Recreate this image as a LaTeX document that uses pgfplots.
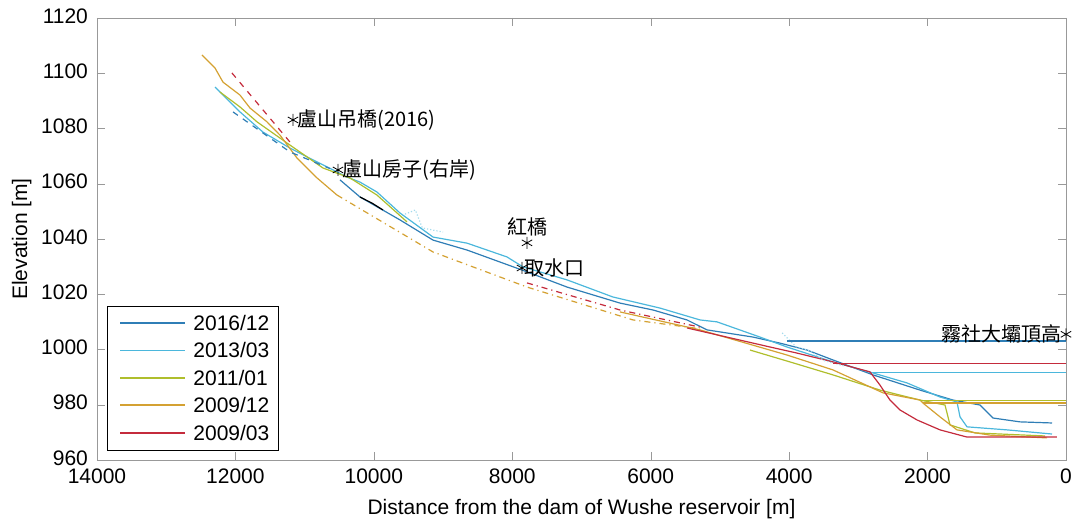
\documentclass[border=0pt]{standalone}
\usepackage{fontspec}
\setmainfont{Liberation Sans}
\newfontfamily\cjk{Noto Sans CJK TC}
\usepackage{pgfplots}
\pgfplotsset{compat=1.18}
\definecolor{cA}{HTML}{2F7EB6}
\definecolor{cB}{HTML}{4BB7DC}
\definecolor{cC}{HTML}{AFBE2C}
\definecolor{cD}{HTML}{D4A132}
\definecolor{cE}{HTML}{C42B3C}
\begin{document}
\begin{tikzpicture}
\begin{axis}[
  scale only axis, width=484.5pt, height=221pt,
  x dir=reverse, xmin=0, xmax=14000, ymin=960, ymax=1120,
  xtick={0,2000,...,14000}, ytick={960,980,...,1120},
  scaled x ticks=false, scaled y ticks=false,
  tick align=inside, major tick length=4pt,
  axis line style={gray!80}, every tick/.append style={gray!80},
  tick label style={font=\fontsize{10.5}{12}\selectfont, /pgf/number format/assume math mode=true, /pgf/number format/1000 sep={}},
  xticklabel style={yshift=-1pt},
  yticklabel style={xshift=-1pt, yshift=1pt},
  label style={font=\fontsize{10.5}{12}\selectfont},
  xlabel={Distance from the dam of Wushe reservoir [m]},
  ylabel={Elevation [m]},
  xlabel style={yshift=-1pt},
  ylabel style={yshift=-2pt},
  clip=false,
  every axis plot/.append style={line width=0.6pt},
]
% 2016/12
\addplot[draw=cA] coordinates {
 (10489,1061.4) (10200,1055.2) (9622,1046.9) (9145,1039.6) (8654,1036.0) (7787,1028.1)
 (7209,1022.6) (6444,1016.8) (5967,1014.3) (5476,1010.7) (5187,1007.1) (4522,1004.5)
 (4132,1002.3) (3742,999.8) (3366,996.2) (2788,990.8) (2109,985.3) (1633,981.7)
 (1242,979.9) (1055,975.2) (664,973.8) (202,973.4)
};
% 2013/03
\addplot[draw=cB] coordinates {
 (12295,1095.0) (12180,1092.1) (11934,1086.0) (11602,1078.7) (11212,1072.9) (10821,1067.9)
 (10532,1064.3) (10388,1062.4) (10200,1060.6) (9955,1057.0) (9622,1049.4) (9145,1040.7)
 (8654,1038.5) (8076,1033.5) (7845,1029.9) (7209,1025.2) (6545,1019.0) (5866,1015.0)
 (5288,1010.7) (5042,1010.0) (4421,1004.5) (4031,1000.9) (3366,995.5) (2788,991.5)
 (2297,987.9) (1820,982.8) (1575,981.0) (1531,975.6) (1430,972.0) (852,970.9) (202,969.4)
};
% 2011/01
\addplot[draw=cC] coordinates {
 (12223,1093.2) (11934,1087.8) (11688,1082.4) (11212,1074.0) (10735,1065.7) (10345,1062.1)
 (9955,1055.9) (9521,1046.2)
};
\addplot[draw=cC] coordinates {
 (4565,999.8) (3988,995.5) (3366,990.8) (2687,985.3) (2109,981.7) (1748,979.9)
 (1676,972.7) (1315,969.8) (303,968.7)
};
% 2009/12
\addplot[draw=cD] coordinates {
 (12483,1106.6) (12295,1101.9) (12180,1096.8) (11934,1092.1) (11789,1087.4) (11544,1082.4)
 (11356,1077.6) (11110,1069.3) (10821,1062.1) (10532,1055.9)
};
\addplot[draw=cD] coordinates {
 (6444,1013.6) (5288,1007.1) (4031,998.0) (3366,992.6) (2644,984.3) (2109,981.7)
 (2066,980.6) (1820,975.6) (1575,970.9) (1098,969.0) (274,968.0)
};
% 2009/03
\addplot[draw=cE] coordinates {
 (5476,1007.8) (4276,1000.9) (3886,998.7) (3366,995.5) (2832,991.9) (2687,987.1)
 (2543,981.7) (2398,978.1) (2153,974.5) (1820,970.9) (1430,968.3) (130,968.3)
};
% interpolated segments
\addplot[draw=cA, dashed] coordinates {(12035,1086.0) (11212,1071.5) (10634,1065.5)};
\addplot[draw=cE, dashed] coordinates {(12050,1100.1) (11212,1075.1)};
\addplot[draw=cE, dash dot] coordinates {(7787,1024.1) (6444,1014.3) (5288,1008.1)};
\addplot[draw=cD, dash dot] coordinates {(10532,1055.9) (9145,1035.3) (7787,1022.6) (6256,1010.7) (5288,1007.5)};
\addplot[draw=cB!50, densely dotted] coordinates {(9550,1049.0) (9400,1050.5) (9300,1044.0) (9000,1042.5)};
\addplot[draw=cB!50, densely dotted] coordinates {(4100,1006.0) (3900,1001.0) (3700,999.5) (3500,996.0) (3200,994.0)};
\addplot[draw=black] coordinates {(10200,1055.2) (10027,1053.0) (9868,1050.5)};
% reservoir levels
\addplot[draw=cA] coordinates {(4031,1003.1) (0,1003.1)};
\addplot[draw=cE] coordinates {(3366,994.8) (0,994.8)};
\addplot[draw=cB] coordinates {(2788,991.6) (0,991.6)};
\addplot[draw=cC] coordinates {(2110,981.5) (0,981.5)};
\addplot[draw=cD] coordinates {(2066,980.6) (0,980.6)};
% landmarks
\addplot[only marks, mark=asterisk, mark size=3pt, black, line width=0.4pt] coordinates {
 (11168,1083.1) (10518,1065.0) (7787,1038.6) (7860,1029.5) (0,1005.5)
};
\node[anchor=west, inner sep=0pt, xshift=2pt] at (axis cs:11168,1083.1) {\cjk 盧山吊橋(2016)};
\node[anchor=west, inner sep=0pt, xshift=2pt] at (axis cs:10518,1065.0) {\cjk 盧山房子(右岸)};
\node[anchor=south, inner sep=0pt, yshift=3pt] at (axis cs:7787,1038.6) {\cjk 紅橋};
\node[anchor=west, inner sep=0pt, xshift=1pt] at (axis cs:7860,1029.5) {\cjk 取水口};
\node[anchor=east, inner sep=0pt, xshift=-2pt] at (axis cs:0,1005.5) {\cjk 霧社大壩頂高};
\end{axis}
% legend
\begin{scope}[shift={(current axis.south west)}, every node/.style={anchor=west, inner sep=0pt, font=\fontsize{10.5}{12}\selectfont}]
\draw[black, line width=0.5pt, fill=white] (5pt,4.5pt) rectangle (90.5pt,76.5pt);
\draw[cA, line width=0.7pt] (11.5pt,68.5pt) -- (44pt,68.5pt);
\draw[cB, line width=0.7pt] (11.5pt,54.75pt) -- (44pt,54.75pt);
\draw[cC, line width=0.7pt] (11.5pt,41pt) -- (44pt,41pt);
\draw[cD, line width=0.7pt] (11.5pt,27.5pt) -- (44pt,27.5pt);
\draw[cE, line width=0.7pt] (11.5pt,13.5pt) -- (44pt,13.5pt);
\node at (48pt,68.5pt) {2016/12};
\node at (48pt,54.75pt) {2013/03};
\node at (48pt,41pt) {2011/01};
\node at (48pt,27.25pt) {2009/12};
\node at (48pt,13.5pt) {2009/03};
\end{scope}
\pgfresetboundingbox
\path[use as bounding box] ([xshift=-48.5pt,yshift=-31.5pt]current axis.south west) rectangle ([xshift=5pt,yshift=9pt]current axis.north east);
\end{tikzpicture}
\end{document}
